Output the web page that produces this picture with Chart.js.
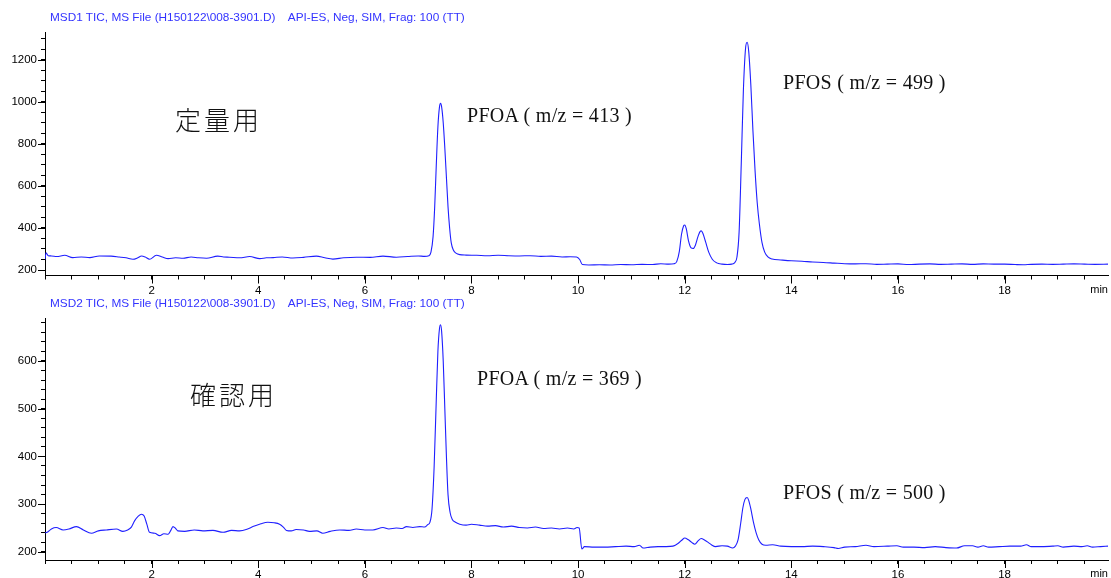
<!DOCTYPE html>
<html>
<head>
<meta charset="utf-8">
<script src="https://cdn.jsdelivr.net/npm/chart.js@4"></script>
<style>
  body { margin: 0; background: #fff; }
  #wrap { position: relative; width: 1111px; height: 578px; overflow: hidden; }
  canvas { position: absolute; left: 0; }
  .hdr { position: absolute; left: 50px; font: 11.8px "Liberation Sans", Arial, sans-serif; color: #3333ff; white-space: pre; }
  .unit { position: absolute; right: 3px; font: 11px "Liberation Sans", Arial, sans-serif; color: #000; }
  .jp { position: absolute; font: 26px "Noto Sans CJK JP", sans-serif; font-weight: 300; letter-spacing: 3px; color: #111; }
  .cmp { position: absolute; font: 20px "Liberation Serif", "DejaVu Serif", serif; letter-spacing: 0.3px; color: #111; white-space: pre; }
</style>
</head>
<body>
<div id="wrap">
  <canvas id="msd1" width="1111" height="296" style="top:0"></canvas>
  <canvas id="msd2" width="1111" height="288" style="top:290px"></canvas>

  <div class="hdr" style="top:10px">MSD1 TIC, MS File (H150122\008-3901.D)    API-ES, Neg, SIM, Frag: 100 (TT)</div>
  <div class="hdr" style="top:296px">MSD2 TIC, MS File (H150122\008-3901.D)    API-ES, Neg, SIM, Frag: 100 (TT)</div>
  <div class="unit" style="top:283px">min</div>
  <div class="unit" style="top:567px">min</div>

  <div class="jp" style="left:175px; top:100px">定量用</div>
  <div class="jp" style="left:190px; top:375px">確認用</div>
  <div class="cmp" style="left:467px; top:104px">PFOA ( m/z = 413 )</div>
  <div class="cmp" style="left:783px; top:71px">PFOS ( m/z = 499 )</div>
  <div class="cmp" style="left:477px; top:367px">PFOA ( m/z = 369 )</div>
  <div class="cmp" style="left:783px; top:481px">PFOS ( m/z = 500 )</div>
</div>

<script>
// MSD1 trace, quantitation ions (retention time in min / abundance)
const msd1Time = [0.00,0.02,0.06,0.12,0.22,0.37,0.52,0.68,0.84,1.02,1.24,1.39,1.52,1.65,1.74,1.81,1.88,1.96,2.09,2.20,
  2.31,2.45,2.59,2.74,2.88,3.03,3.24,3.35,3.46,3.65,3.84,4.03,4.15,4.28,4.45,4.65,4.85,5.09,5.25,5.40,
  5.60,5.84,6.10,6.34,6.59,6.80,7.00,7.12,7.20,7.24,7.28,7.31,7.34,7.37,7.40,7.42,7.44,7.47,7.50,7.53,
  7.56,7.59,7.62,7.66,7.71,7.78,7.90,8.10,8.30,8.50,8.70,8.90,9.10,9.30,9.50,9.70,9.85,9.97,10.03,10.08,
  10.20,10.40,10.60,10.80,11.00,11.20,11.40,11.55,11.70,11.80,11.85,11.90,11.94,11.98,12.00,12.03,12.07,12.12,12.16,12.20,
  12.25,12.29,12.31,12.34,12.39,12.45,12.52,12.60,12.70,12.80,12.88,12.94,12.98,13.02,13.06,13.10,13.14,13.17,13.20,13.24,
  13.28,13.32,13.36,13.40,13.45,13.50,13.56,13.64,13.80,14.00,14.20,14.40,14.60,14.80,15.00,15.20,15.40,15.60,15.80,16.00,
  16.20,16.40,16.60,16.80,17.00,17.20,17.40,17.60,17.80,18.00,18.20,18.35,18.50,18.70,18.90,19.10,19.30,19.50,19.70,19.94];
const msd1Abund = [250,282,268,267,264,270,259,262,259,267,266,262,258,251,258,267,262,251,270,262,
  254,258,256,262,258,256,266,262,261,258,264,254,258,259,262,257,260,266,258,252,
  258,261,260,266,261,264,267,265,268,285,360,500,700,880,975,992,975,900,780,640,
  500,400,330,295,280,273,271,270,268,270,268,267,268,265,266,262,263,262,250,226,
  224,225,224,226,225,227,226,230,228,230,240,290,370,410,414,395,340,305,302,318,
  360,384,386,375,335,285,250,234,228,226,228,236,262,380,700,1050,1250,1282,1240,1080,
  860,670,520,420,330,285,262,252,248,244,242,238,236,233,230,229,230,227,228,229,
  226,228,229,227,228,229,227,229,228,228,226,225,227,228,227,228,229,228,227,228];

// MSD2 trace, confirmation ions
const msd2Time = [0.00,0.04,0.12,0.21,0.34,0.45,0.59,0.72,0.87,1.00,1.15,1.34,1.46,1.55,1.62,1.68,1.75,1.81,1.86,1.91,
  1.96,2.06,2.15,2.23,2.31,2.36,2.40,2.45,2.49,2.62,2.80,2.96,3.15,3.34,3.50,3.65,3.80,3.90,4.05,4.18,
  4.30,4.40,4.47,4.53,4.62,4.71,4.85,4.96,5.10,5.21,5.35,5.53,5.70,5.84,6.00,6.15,6.34,6.45,6.59,6.70,
  6.78,6.90,7.03,7.12,7.18,7.22,7.26,7.30,7.34,7.37,7.40,7.42,7.44,7.47,7.50,7.53,7.56,7.60,7.64,7.70,
  7.78,7.90,8.00,8.15,8.30,8.45,8.60,8.75,8.90,9.05,9.20,9.35,9.50,9.65,9.80,9.92,9.98,10.02,10.07,10.12,
  10.30,10.50,10.70,10.90,11.05,11.15,11.22,11.35,11.50,11.65,11.78,11.88,11.95,12.00,12.06,12.13,12.19,12.25,12.31,12.37,
  12.44,12.50,12.58,12.70,12.80,12.90,12.95,13.00,13.05,13.09,13.13,13.17,13.20,13.24,13.29,13.34,13.39,13.45,13.52,13.65,
  13.80,14.00,14.20,14.40,14.60,14.80,14.88,15.00,15.20,15.40,15.55,15.80,15.98,16.10,16.30,16.50,16.70,16.90,17.10,17.25,
  17.40,17.50,17.60,17.70,17.90,18.10,18.30,18.41,18.50,18.70,18.90,19.00,19.10,19.30,19.45,19.55,19.65,19.80,19.94];
const msd2Abund = [240,241,248,251,246,248,253,246,239,244,246,248,243,246,252,265,275,279,275,258,
  241,239,234,238,237,245,253,249,244,243,246,244,245,241,245,244,248,253,259,262,
  261,258,252,245,244,247,246,243,244,239,243,246,245,248,246,246,251,248,250,249,
  253,251,253,252,257,262,290,380,520,620,668,676,662,600,500,400,320,282,268,262,
  258,256,258,256,254,255,252,254,251,250,252,249,250,248,250,248,251,250,206,211,
  210,210,211,212,211,214,208,210,211,211,212,218,225,229,226,220,216,223,228,225,
  220,215,211,213,212,208,212,225,260,292,310,314,308,290,262,240,225,216,214,215,
  212,211,211,212,211,209,207,210,211,214,211,212,213,210,210,209,211,209,208,213,
  213,210,213,210,211,212,212,215,211,211,212,213,210,212,211,213,210,211,212];

const timeRange = [0, 19.94];
const msd1Range = [174, 1331];
const msd2Range = [183, 690];
const timeLabelStep = 2;
const msd1LabelStep = 200;
const msd2LabelStep = 100;

// longer tick marks for the labelled ticks
const majorTicks = {
  id: 'majorTicks',
  afterDraw(chart) {
    const ctx = chart.ctx;
    const xs = chart.scales.x, ys = chart.scales.y;
    ctx.save();
    ctx.strokeStyle = '#000';
    ctx.lineWidth = 1;
    ctx.beginPath();
    xs.ticks.forEach(t => {
      if (t.label !== '') {
        const px = Math.round(xs.getPixelForValue(t.value)) + 0.5;
        ctx.moveTo(px, xs.top);
        ctx.lineTo(px, xs.top + 8);
      }
    });
    ys.ticks.forEach(t => {
      if (t.label !== '') {
        const py = Math.round(ys.getPixelForValue(t.value)) + 0.5;
        ctx.moveTo(ys.right, py);
        ctx.lineTo(ys.right - 7, py);
      }
    });
    ctx.stroke();
    ctx.restore();
  }
};

function makeChart(id, times, abund, yRange, yMinor, yMajor, padTop, xHeight) {
  const pts = times.map((t, i) => ({ x: t, y: abund[i] }));
  return new Chart(document.getElementById(id), {
    type: 'line',
    data: {
      datasets: [{
        data: pts,
        borderColor: '#1f1fff',
        borderWidth: 1.1,
        pointRadius: 0,
        cubicInterpolationMode: 'monotone',
        fill: false
      }]
    },
    options: {
      responsive: false,
      animation: false,
      layout: { padding: { top: padTop, right: 3, left: 0, bottom: 0 } },
      plugins: { legend: { display: false }, tooltip: { enabled: false } },
      scales: {
        x: {
          type: 'linear',
          min: timeRange[0],
          max: timeRange[1],
          afterFit: s => { s.height = xHeight; },
          grid: { drawOnChartArea: false, tickLength: 4, color: '#000' },
          border: { color: '#000' },
          ticks: {
            stepSize: 0.5,
            includeBounds: false,
            autoSkip: false,
            maxRotation: 0,
            padding: 4,
            color: '#000',
            font: { family: 'Liberation Sans', size: 11.5 },
            callback: v => (v > 0 && v % timeLabelStep === 0) ? String(v) : ''
          }
        },
        y: {
          min: yRange[0],
          max: yRange[1],
          afterFit: s => { s.width = 45; },
          grid: { drawOnChartArea: false, tickLength: 4, color: '#000' },
          border: { color: '#000' },
          ticks: {
            stepSize: yMinor,
            includeBounds: false,
            autoSkip: false,
            padding: 4,
            color: '#000',
            font: { family: 'Liberation Sans', size: 11.5 },
            callback: v => (v % yMajor === 0) ? String(v) : ''
          }
        }
      }
    },
    plugins: [majorTicks]
  });
}

makeChart('msd1', msd1Time, msd1Abund, msd1Range, 50, msd1LabelStep, 32, 20.5);
makeChart('msd2', msd2Time, msd2Abund, msd2Range, 20, msd2LabelStep, 28, 18);
</script>
</body>
</html>
